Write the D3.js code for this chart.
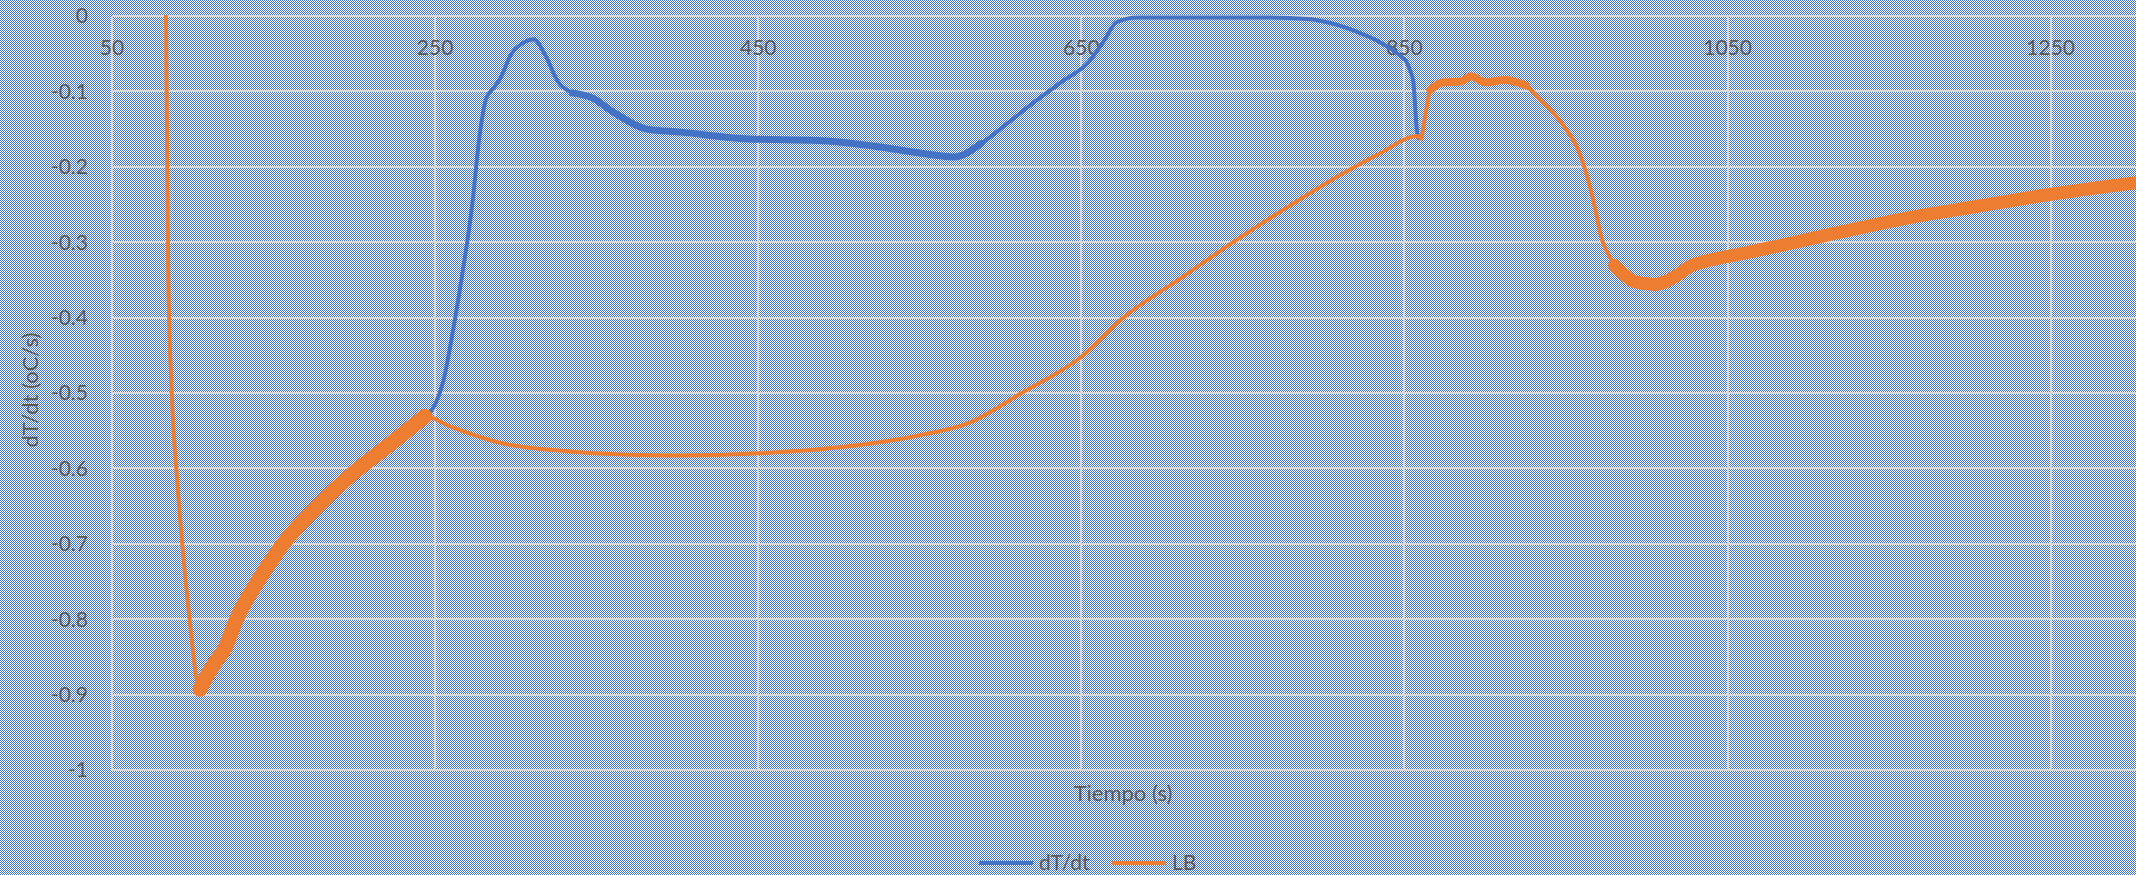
<!DOCTYPE html>
<html>
<head>
<meta charset="utf-8">
<script src="https://cdn.jsdelivr.net/npm/d3@7"></script>
<style>
  html, body { margin: 0; padding: 0; background: #fff; }
  svg { display: block; }
  text { font-family: Lato, "Open Sans", sans-serif; fill: #595959; }
</style>
</head>
<body>
<svg id="chart" width="2136" height="875"></svg>
<script>
// Cooling-curve derivative (dT/dt) and its fitted baseline (LB), seconds vs °C/s
const lbTime = [83.4, 84, 84.8, 87, 90.5, 94.3, 98, 100, 102, 104.5,
  108, 114, 120, 127, 137, 149, 156, 175, 200, 225, 243.7,
  260, 290, 330, 370, 400, 450, 500, 550, 580, 613, 650, 676, 710, 744, 778, 811, 835, 858,
  860, 863, 866, 874, 885, 891, 900, 912, 925, 933, 942, 950, 957, 963, 968, 972, 976, 980, 986, 992,
  1005, 1018, 1026, 1043, 1052, 1077, 1119, 1161, 1203, 1245, 1303];
const lbValue = [0, -0.15, -0.34, -0.5, -0.62, -0.72, -0.80, -0.84, -0.875, -0.893,
  -0.878, -0.857, -0.838, -0.80, -0.761, -0.721, -0.70, -0.655, -0.605, -0.563, -0.531,
  -0.545, -0.566, -0.577, -0.582, -0.583, -0.580, -0.572, -0.556, -0.540, -0.50, -0.452, -0.40, -0.35, -0.30, -0.253, -0.21, -0.182, -0.159,
  -0.163, -0.13, -0.098, -0.088, -0.087, -0.08, -0.088, -0.085, -0.092, -0.109, -0.128, -0.150, -0.175, -0.212, -0.255, -0.295, -0.315, -0.331, -0.343, -0.352,
  -0.356, -0.345, -0.333, -0.322, -0.318, -0.307, -0.287, -0.268, -0.253, -0.238, -0.221];

const dtTime = [243.7, 250, 255, 261.5, 267, 273, 277.5, 281.7, 286, 290, 297, 305, 311, 318, 326, 335,
  347.5, 360, 381, 402, 444, 487, 520, 554, 571, 588, 605, 621, 638, 655, 664, 672, 685,
  720, 760, 790, 807, 824, 835, 847, 851, 853.5, 855.5, 857.6, 858.5];
const dtValue = [-0.531, -0.515, -0.485, -0.412, -0.34, -0.25, -0.159, -0.109, -0.096, -0.084, -0.051, -0.035, -0.031, -0.051, -0.087, -0.102,
  -0.109, -0.127, -0.150, -0.154, -0.163, -0.165, -0.172, -0.183, -0.187, -0.169, -0.141, -0.114, -0.087, -0.06, -0.033, -0.008, -0.002,
  -0.002, -0.002, -0.004, -0.011, -0.024, -0.035, -0.052, -0.06, -0.072, -0.087, -0.15, -0.162];

const xTicks = [50, 250, 450, 650, 850, 1050, 1250];
const xTickLabels = ["50", "250", "450", "650", "850", "1050", "1250"];
const yTicks = [0, -0.1, -0.2, -0.3, -0.4, -0.5, -0.6, -0.7, -0.8, -0.9, -1];
const yTickLabels = ["0", "-0.1", "-0.2", "-0.3", "-0.4", "-0.5", "-0.6", "-0.7", "-0.8", "-0.9", "-1"];
const seriesNames = ["dT/dt", "LB"];

const BLUE = "#4472c4", ORANGE = "#ed7d31", GRID = "#d9d9d9";
const plot = { left: 112, right: 2136, top: 16, bottom: 770 };

const svg = d3.select("#chart");
const defs = svg.append("defs");

// 1px checkerboard fill behind everything
const pat = defs.append("pattern").attr("id", "checker")
  .attr("width", 2).attr("height", 2).attr("patternUnits", "userSpaceOnUse");
pat.append("rect").attr("width", 2).attr("height", 2).attr("fill", "#ffffff");
pat.append("rect").attr("x", 0).attr("y", 0).attr("width", 1).attr("height", 1).attr("fill", BLUE);
pat.append("rect").attr("x", 1).attr("y", 1).attr("width", 1).attr("height", 1).attr("fill", BLUE);
svg.append("rect").attr("width", 2136).attr("height", 875).attr("fill", "url(#checker)")
  .attr("shape-rendering", "crispEdges");

defs.append("clipPath").attr("id", "plotClip").append("rect")
  .attr("x", plot.left).attr("y", plot.top - 1)
  .attr("width", plot.right - plot.left).attr("height", plot.bottom - plot.top + 2);

const x = d3.scaleLinear().domain([50, 1302.8]).range([plot.left, plot.right]);
const y = d3.scaleLinear().domain([-1, 0]).range([plot.bottom, plot.top]);

// gridlines
const grid = svg.append("g").attr("stroke", GRID).attr("stroke-width", 2).attr("shape-rendering", "crispEdges");
grid.selectAll("line.h").data(yTicks).join("line").attr("class", "h")
  .attr("x1", plot.left).attr("x2", plot.right)
  .attr("y1", d => Math.round(y(d))).attr("y2", d => Math.round(y(d)));
grid.selectAll("line.v").data(xTicks).join("line").attr("class", "v")
  .attr("x1", d => Math.round(x(d))).attr("x2", d => Math.round(x(d)))
  .attr("y1", plot.top).attr("y2", plot.bottom);

// y tick labels
svg.append("g").selectAll("text").data(yTicks).join("text")
  .attr("x", 88).attr("y", d => y(d)).attr("dy", "0.35em")
  .attr("text-anchor", "end").attr("font-size", 21)
  .text((d, i) => yTickLabels[i]);

// x tick labels (axis crosses at 0, labels sit just under the top edge)
svg.append("g").selectAll("text").data(xTicks).join("text")
  .attr("x", d => x(d)).attr("y", 48).attr("dy", "0.35em")
  .attr("text-anchor", "middle").attr("font-size", 21)
  .text((d, i) => xTickLabels[i]);

// axis titles
svg.append("text").attr("x", 1123).attr("y", 793).attr("dy", "0.35em")
  .attr("text-anchor", "middle").attr("font-size", 22).text("Tiempo (s)");
svg.append("text").attr("transform", "translate(30,390) rotate(-90)").attr("dy", "0.35em")
  .attr("text-anchor", "middle").attr("font-size", 22).text("dT/dt (oC/s)");

// series
const line = d3.line().x(d => x(d[0])).y(d => y(d[1])).curve(d3.curveMonotoneX);
const dtPts = dtTime.map((t, i) => [t, dtValue[i]]);
const lbPts = lbTime.map((t, i) => [t, lbValue[i]]);
const within = (pts, a, b) => pts.filter(p => p[0] >= a && p[0] <= b);

const g = svg.append("g").attr("clip-path", "url(#plotClip)")
  .attr("fill", "none").attr("stroke-linejoin", "round").attr("stroke-linecap", "round");

// dT/dt, with a heavier trace where the signal is noisy
g.append("path").attr("d", line(dtPts)).attr("stroke", BLUE).attr("stroke-width", 4);
g.append("path").attr("d", line(within(dtPts, 330, 600))).attr("stroke", BLUE).attr("stroke-width", 7);

// LB on top
g.append("path").attr("d", line(lbPts)).attr("stroke", ORANGE).attr("stroke-width", 4);
g.append("path").attr("d", line(within(lbPts, 104.5, 244))).attr("stroke", ORANGE).attr("stroke-width", 15);
g.append("path").attr("d", line(within(lbPts, 866, 930))).attr("stroke", ORANGE).attr("stroke-width", 8);
g.append("path").attr("d", line(within(lbPts, 980, 1303))).attr("stroke", ORANGE).attr("stroke-width", 13);

// legend
const legend = svg.append("g").attr("transform", "translate(0,863)");
const legendItems = [
  { name: seriesNames[0], color: BLUE, x0: 979 },
  { name: seriesNames[1], color: ORANGE, x0: 1112 }
];
legendItems.forEach(it => {
  legend.append("line").attr("x1", it.x0).attr("x2", it.x0 + 54).attr("y1", 0).attr("y2", 0)
    .attr("stroke", it.color).attr("stroke-width", 4);
  legend.append("text").attr("x", it.x0 + 60).attr("y", 0).attr("dy", "0.35em")
    .attr("font-size", 21).text(it.name);
});
</script>
</body>
</html>
